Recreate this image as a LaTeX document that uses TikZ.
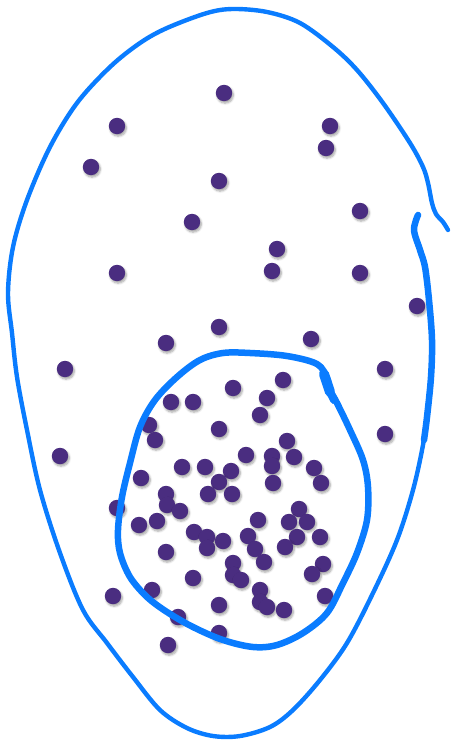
\documentclass[tikz,border=0pt]{standalone}
\usetikzlibrary{shadows.blur}
\definecolor{dotc}{HTML}{4A2D80}
\definecolor{penc}{HTML}{0A7CFF}
\tikzset{
  dotm/.style={fill=dotc, draw=none, blur shadow={shadow xshift=1.2pt, shadow yshift=-2pt, shadow blur steps=6, shadow opacity=35, shadow blur radius=2pt}},
  pen/.style={draw=penc, line cap=round, line join=round}
}
\begin{document}
\begin{tikzpicture}[x=1pt,y=-1pt]
\useasboundingbox (0,0) rectangle (452,743);
% dots
\foreach \p in {(224,93),(117,126),(330,126),(326,148),(91,167),(219,181),(360,211),(192,222),(277,249),(272,271),(117,273),(360,273),(417,306),(219,327),(166,343),(311,339),(65,369),(385,369),(60,456),(385,434),
(283,380),(233,388),(267,398),(171,402),(193,402),(260,415),(149,425),(219,429),(155,440),(287,441),(246,455),(272,456),(294,457),(182,467),(205,467),(272,466),(231,471),(314,468),(141,478),(219,482),(273,483),(321,483),(166,494),(208,494),(232,494),(117,508),(167,505),(180,511),(299,509),(139,525),(157,521),(194,532),(207,537),(207,548),(223,541),(258,520),(248,536),(255,549),(289,522),(307,522),(297,537),(285,547),(320,537),(166,552),(233,563),(233,575),(241,580),(264,562),(323,564),(312,574),(193,578),(152,590),(113,596),(260,590),(260,602),(267,607),(284,610),(325,596),(219,605),(178,617),(219,633),(168,645)}
  \fill[dotm] \p circle (8.2);
% outer loop
\draw[pen, line width=4.4pt] plot[smooth, tension=0.55] coordinates {(448,230) (443,222) (436,214) (432,203) (428,183) (423,167) (410,143) (383,103) (357,70) (333,47) (300,23) (267,12) (233,9) (207,13) (167,28) (140,43) (110,67) (77,103) (50,147) (27,200) (13,247) (8,293) (12,333) (17,377) (27,430) (40,490) (60,553) (83,610) (107,643) (133,677) (160,710) (187,728) (213,736) (240,736) (270,727) (293,710) (320,680) (347,643) (373,593) (397,540) (413,490) (423,445) (427,415)};
% thick right stroke
\draw[pen, line width=6.5pt] plot[smooth, tension=0.55] coordinates {(418,215) (414,230) (420,250) (425,267) (429,300) (432,340) (431,377) (427,417) (424,440)};
% inner loop
\draw[pen, line width=6.5pt] plot[smooth cycle, tension=0.55] coordinates {(327,378) (317,364) (287,356) (250,353) (223,353) (200,360) (177,377) (155,400) (140,427) (130,463) (122,497) (118,530) (120,553) (130,577) (147,597) (167,612) (193,627) (223,640) (253,647) (277,645) (303,633) (327,613) (343,583) (357,553) (367,520) (368,487) (363,460) (350,430) (337,403) (330,390)};
\draw[pen, line width=10pt] (324,374) -- (330,392);
\draw[pen, line width=8pt] (330,392) -- (334,400);
\end{tikzpicture}
\end{document}
